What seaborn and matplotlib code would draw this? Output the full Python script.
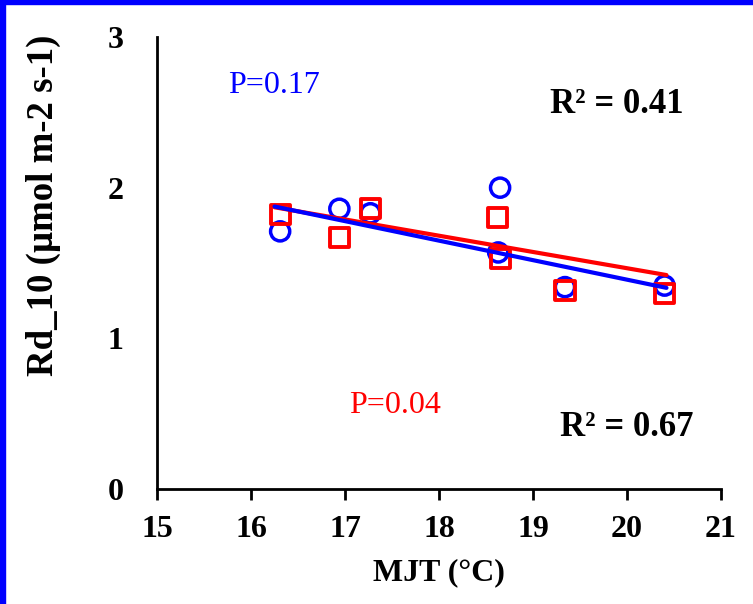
import matplotlib
matplotlib.use('Agg')
import matplotlib.pyplot as plt
import seaborn as sns
from matplotlib.patches import Rectangle

# Data
mjt_blue = [16.31, 16.94, 17.27, 18.65, 18.63, 19.34, 20.40]
rd_blue = [1.71, 1.86, 1.83, 2.00, 1.57, 1.34, 1.35]
mjt_red = [16.31, 16.94, 17.27, 18.62, 18.65, 19.34, 20.40]
rd_red = [1.82, 1.67, 1.86, 1.80, 1.53, 1.32, 1.30]

# Trend lines (endpoints as drawn in the reference)
trend_x = [16.25, 20.42]
trend_blue = [1.875, 1.335]
trend_red = [1.87, 1.42]

x_ticks = [15, 16, 17, 18, 19, 20, 21]
y_ticks = [0, 1, 2, 3]

sns.set_style('white')
plt.rcParams['font.family'] = ['Liberation Serif', 'DejaVu Serif']
plt.rcParams['text.color'] = 'black'
plt.rcParams['axes.labelcolor'] = 'black'
plt.rcParams['xtick.color'] = 'black'
plt.rcParams['ytick.color'] = 'black'

fig = plt.figure(figsize=(7.53, 6.04), dpi=100)
ax = fig.add_axes([157/753, 1-489/604, (721-157)/753, (489-37)/604])

sns.scatterplot(x=mjt_blue, y=rd_blue, marker='o', s=190, color='blue',
                facecolors='none', edgecolor='blue', linewidth=2.5, ax=ax, zorder=2)
sns.scatterplot(x=mjt_red, y=rd_red, marker='s', s=190, color='red',
                facecolors='none', edgecolor='red', linewidth=2.8, ax=ax, zorder=3)
sns.lineplot(x=trend_x, y=trend_red, color='red', linewidth=3,
             solid_capstyle='round', ax=ax, zorder=4)
sns.lineplot(x=trend_x, y=trend_blue, color='blue', linewidth=3,
             solid_capstyle='round', ax=ax, zorder=5)

ax.set_xlim(15, 21)
ax.set_ylim(0, 3)
ax.set_xticks(x_ticks)
ax.set_yticks(y_ticks)
ax.set_xticklabels([str(t) for t in x_ticks], fontsize=23, fontweight='bold')
ax.set_yticklabels([str(t) for t in y_ticks], fontsize=23, fontweight='bold')
ax.tick_params(axis='x', bottom=True, length=8, width=2, pad=11)
ax.tick_params(axis='y', left=False, length=0, pad=24)

for side in ['top', 'right']:
    ax.spines[side].set_visible(False)
for side in ['left', 'bottom']:
    ax.spines[side].set_color('black')
    ax.spines[side].set_linewidth(2)

ax.set_xlabel('MJT (°C)', fontsize=23, fontweight='bold', labelpad=10)
ax.set_ylabel('Rd_10 (µmol m-2 s-1)', fontsize=26.5, fontweight='bold')
ax.yaxis.set_label_coords(-0.17, 0.628)

ax.text(15.755, 2.68, 'P=0.17', color='blue', fontsize=23, va='center')
ax.text(19.18, 2.555, 'R² = 0.41', color='black', fontsize=25,
        fontweight='bold', va='center')
ax.text(17.04, 0.557, 'P=0.04', color='red', fontsize=23, va='center')
ax.text(19.29, 0.405, 'R² = 0.67', color='black', fontsize=25,
        fontweight='bold', va='center')

# blue frame on the top and left edges
fig.add_artist(Rectangle((0, 1 - 4/604), 1, 4/604, transform=fig.transFigure,
                         color='blue', zorder=10))
fig.add_artist(Rectangle((0, 0), 5/753, 1, transform=fig.transFigure,
                         color='blue', zorder=10))

fig.savefig('out.png', dpi=100)
